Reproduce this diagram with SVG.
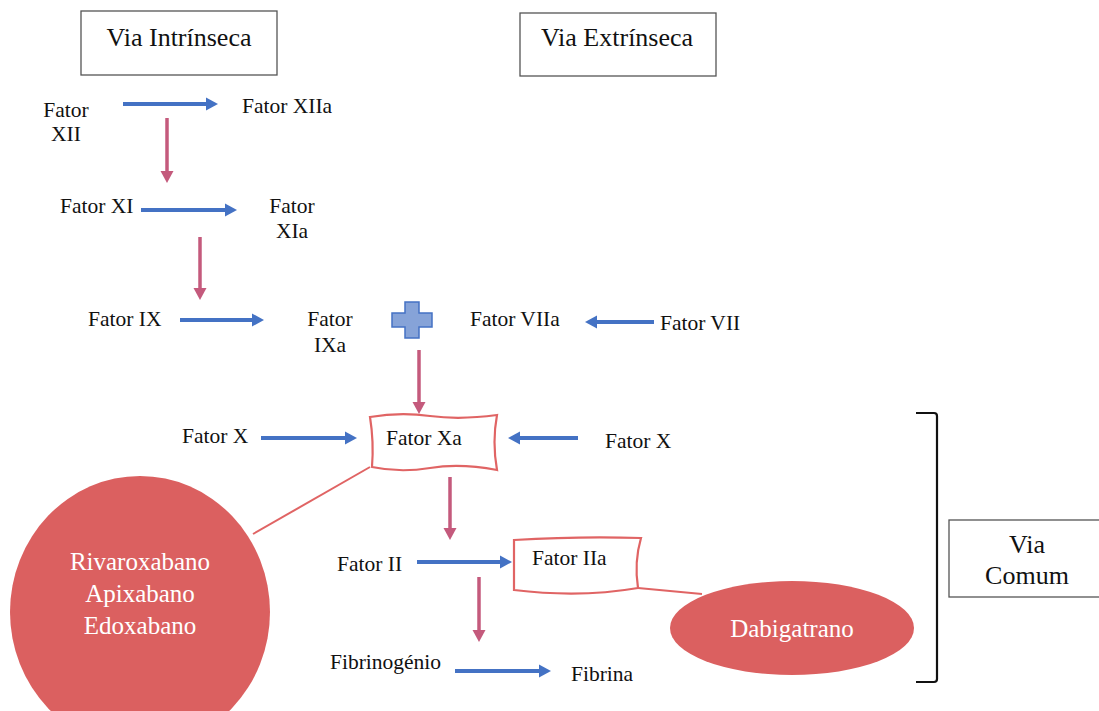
<svg xmlns="http://www.w3.org/2000/svg" width="1099" height="711" viewBox="0 0 1099 711">
<style>
.t{font-family:"Liberation Serif","Times New Roman",serif;font-size:21.5px;fill:#111}
.h{font-family:"Liberation Serif","Times New Roman",serif;font-size:26px;fill:#111}
.w{font-family:"Liberation Serif","Times New Roman",serif;font-size:25px;fill:#fff}
.box{fill:#fff;stroke:#555;stroke-width:1.3}
.blue{stroke:#4472C4;stroke-width:4;fill:none}
.pink{stroke:#C45A7C;stroke-width:3.5;fill:none}
.red{stroke:#E06464;stroke-width:2.2;fill:#fff}
.link{stroke:#E06464;stroke-width:2;fill:none}
.drug{fill:#DB6060}
</style>
<defs>
<marker id="ab" markerUnits="userSpaceOnUse" markerWidth="14" markerHeight="14" viewBox="0 -7 14 14" refX="0" refY="0" orient="auto"><path d="M0,-6.5 L12,0 L0,6.5 z" fill="#4472C4"/></marker>
<marker id="ap" markerUnits="userSpaceOnUse" markerWidth="14" markerHeight="14" viewBox="0 -7 14 14" refX="0" refY="0" orient="auto"><path d="M0,-6.5 L12,0 L0,6.5 z" fill="#C45A7C"/></marker>
</defs>

<g id="connectors">
<line class="blue" x1="123" y1="104" x2="206" y2="104" marker-end="url(#ab)"/>
<line class="blue" x1="141" y1="210" x2="225" y2="210" marker-end="url(#ab)"/>
<line class="blue" x1="180" y1="320" x2="252" y2="320" marker-end="url(#ab)"/>
<line class="blue" x1="654" y1="322" x2="597" y2="322" marker-end="url(#ab)"/>
<line class="blue" x1="261" y1="438" x2="345" y2="438" marker-end="url(#ab)"/>
<line class="blue" x1="578" y1="438" x2="520" y2="438" marker-end="url(#ab)"/>
<line class="blue" x1="417" y1="562" x2="500" y2="562" marker-end="url(#ab)"/>
<line class="blue" x1="455" y1="671" x2="539" y2="671" marker-end="url(#ab)"/>
<line class="pink" x1="167" y1="118" x2="167" y2="171" marker-end="url(#ap)"/>
<line class="pink" x1="200" y1="237" x2="200" y2="288" marker-end="url(#ap)"/>
<line class="pink" x1="419" y1="350" x2="419" y2="402" marker-end="url(#ap)"/>
<line class="pink" x1="450" y1="477" x2="450" y2="528" marker-end="url(#ap)"/>
<line class="pink" x1="479" y1="577" x2="479" y2="630" marker-end="url(#ap)"/>
<line class="link" x1="370" y1="467" x2="253" y2="534"/>
<line class="link" x1="638" y1="588" x2="702" y2="594"/>
</g>

<g id="via-intrinseca"><rect class="box" x="81" y="11" width="196" height="64"/><text class="h" x="179" y="46" text-anchor="middle">Via Intrínseca</text></g>
<g id="via-extrinseca"><rect class="box" x="520" y="13" width="196" height="63"/><text class="h" x="617" y="46" text-anchor="middle">Via Extrínseca</text></g>

<g id="fator-xii"><text class="t" x="66" y="117" text-anchor="middle">Fator</text><text class="t" x="66" y="141" text-anchor="middle">XII</text></g>
<g id="fator-xiia"><text class="t" x="242" y="113">Fator XIIa</text></g>
<g id="fator-xi"><text class="t" x="60" y="213">Fator XI</text></g>
<g id="fator-xia"><text class="t" x="292" y="213" text-anchor="middle">Fator</text><text class="t" x="292" y="238" text-anchor="middle">XIa</text></g>
<g id="fator-ix"><text class="t" x="88" y="326">Fator IX</text></g>
<g id="fator-ixa"><text class="t" x="330" y="326" text-anchor="middle">Fator</text><text class="t" x="330" y="352" text-anchor="middle">IXa</text></g>
<g id="plus"><path d="M405,302 H419 V313 H432 V327 H419 V338 H405 V327 H392 V313 H405 Z" fill="#86A3D8" stroke="#4472C4" stroke-width="1.5"/></g>
<g id="fator-viia"><text class="t" x="470" y="326">Fator VIIa</text></g>
<g id="fator-vii"><text class="t" x="660" y="330">Fator VII</text></g>

<g id="fator-x-left"><text class="t" x="182" y="443">Fator X</text></g>
<g id="fator-xa"><path class="red" d="M370,417 Q400,412 430,416 T497,415 Q492,442 497,470 Q460,463 430,468 T372,467 Q374,442 370,417 Z"/><text class="t" x="386" y="445">Fator Xa</text></g>
<g id="fator-x-right"><text class="t" x="605" y="448">Fator X</text></g>

<g id="fator-ii"><text class="t" x="337" y="571">Fator II</text></g>
<g id="fator-iia"><path class="red" d="M514,540 Q580,536 641,538 Q634,562 638,588 Q580,598 514,590 Z"/><text class="t" x="532" y="565">Fator IIa</text></g>
<g id="fibrinogenio"><text class="t" x="330" y="669">Fibrinogénio</text></g>
<g id="fibrina"><text class="t" x="571" y="681">Fibrina</text></g>

<g id="xa-inhibitors"><ellipse class="drug" cx="140" cy="612" rx="130" ry="136"/><text class="w" x="140" y="570" text-anchor="middle">Rivaroxabano</text><text class="w" x="140" y="602" text-anchor="middle">Apixabano</text><text class="w" x="140" y="634" text-anchor="middle">Edoxabano</text></g>
<g id="dabigatrano"><ellipse class="drug" cx="792" cy="628" rx="122" ry="47"/><text class="w" x="792" y="637" text-anchor="middle">Dabigatrano</text></g>

<g id="bracket"><path d="M916,413 H934 Q937,413 937,416 V679 Q937,682 934,682 H916" fill="none" stroke="#111" stroke-width="2.2"/></g>
<g id="via-comum"><rect class="box" x="949" y="520" width="160" height="77"/><text class="h" x="1027" y="553" text-anchor="middle">Via</text><text class="h" x="1027" y="584" text-anchor="middle">Comum</text></g>
</svg>
